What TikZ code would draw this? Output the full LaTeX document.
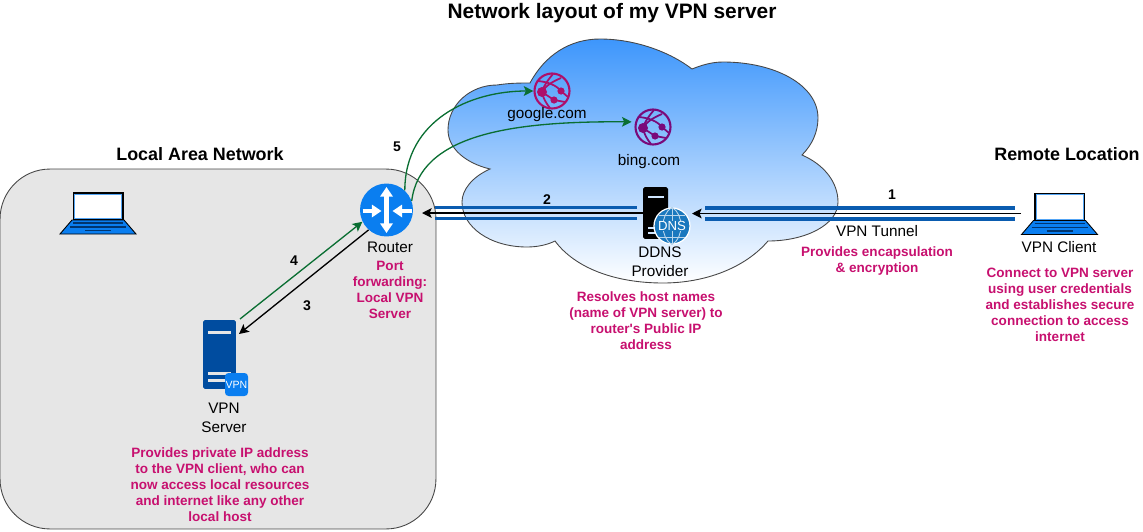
\documentclass[tikz,border=0pt]{standalone}
\usepackage{fontspec}
\setmainfont{Liberation Sans}
\definecolor{lanfill}{RGB}{230,230,230}
\definecolor{edgegray}{RGB}{70,70,70}
\definecolor{cloudtop}{RGB}{61,150,252}
\definecolor{tubeblue}{RGB}{10,92,176}
\definecolor{iconblue}{RGB}{10,126,240}
\definecolor{srvblue}{RGB}{0,76,159}
\definecolor{dnsblue}{RGB}{26,120,190}
\definecolor{darkgreen}{RGB}{10,110,50}
\definecolor{notepink}{RGB}{199,16,111}
\definecolor{gcol}{RGB}{173,15,106}
\definecolor{bcol}{RGB}{122,10,122}
\usetikzlibrary{calc, positioning, arrows.meta}

\begin{document}
\begin{tikzpicture}[
  x=0.02cm, y=-0.02cm,
  head/.style={font=\fontsize{10.2}{12}\selectfont\bfseries},
  lbl/.style={font=\fontsize{8.7}{10.8}\selectfont, align=center, inner sep=0pt},
  num/.style={font=\fontsize{8}{10}\selectfont\bfseries, inner sep=0pt},
  note/.style={font=\fontsize{7.7}{9.1}\selectfont\bfseries, text=notepink,
    align=center, inner sep=0pt},
  arw/.style={-{Stealth[length=5.5pt,width=5.5pt,inset=1.2pt]}, line width=0.75pt, black},
  grn/.style={-{Stealth[length=5.5pt,width=5.5pt,inset=1.2pt]}, line width=0.75pt, darkgreen},
  tube/.style={line width=2pt, tubeblue},
  lapbox/.style={minimum width=1.52cm, minimum height=0.84cm, inner sep=0pt},
  webnode/.style={circle, draw=#1, line width=1.2pt, minimum size=0.7cm, inner sep=0pt},
  pics/laptop/.style={code={
    \fill[black] (-25.5,-21) rectangle (25.5,7);
    \fill[iconblue!70!white] (-24,-19.5) rectangle (24,6);
    \fill[white] (-23,-18.5) rectangle (23,5);
    \draw[fill=iconblue, line width=0.5pt] (-26,7) -- (26,7) -- (38,21) -- (-38,21) -- cycle;
    \draw[srvblue!70!black, line width=0.7pt] (-25,10) -- (25,10);
    \draw[srvblue!70!black, line width=0.7pt] (-28,14) -- (28,14);
    \draw[srvblue!70!black, line width=0.8pt] (-13,17.5) -- (13,17.5);
  }},
  pics/webicon/.style={code={
    \fill[#1] (-10,1) circle[radius=5];
    \fill[#1] (9,0) circle[radius=3.6];
    \fill[#1] (2,9) circle[radius=3.6];
    \draw[#1, line width=1pt] (-14,-10) .. controls (-4,-9) and (4,-6) .. (9,0) -- (16,6);
    \draw[#1, line width=1pt] (-10,1) .. controls (-8,-6) and (-4,-11) .. (1,-17);
    \draw[#1, line width=1pt] (-10,1) -- (2,9) -- (13,11);
    \draw[#1, line width=1pt] (-10,1) .. controls (-9,7) and (-6,12) .. (-2,17);
    \draw[#1, line width=1pt] (-10,1) .. controls (-6,-6) and (2,-10) .. (9,-13);
  }},
  pics/routericon/.style={code={
    \draw[white, line width=2.6pt, {Triangle[length=5.5pt,width=7pt]}-{Triangle[length=5.5pt,width=7pt]}]
      (0,-23) -- (0,23);
    \draw[white, line width=2.6pt, -{Triangle[length=5.5pt,width=7pt]}] (-24,1) -- (-5,1);
    \draw[white, line width=2.6pt, -{Triangle[length=5.5pt,width=7pt]}] (25,1) -- (6,1);
  }},
]
\useasboundingbox (0,0) rectangle (1143,531);

% ---- Local network background ----
\node[draw=edgegray, fill=lanfill, rounded corners=1cm, line width=0.5pt,
  minimum width=8.72cm, minimum height=7.2cm, inner sep=0pt] (lan) at (218,349) {};

% ---- Internet cloud ----
\draw[draw=edgegray, line width=0.5pt, top color=cloudtop, bottom color=white]
  (530,83) .. controls (545,55) and (570,39) .. (600,39)
  .. controls (635,39) and (670,52) .. (692,69)
  .. controls (702,65) and (712,62) .. (723,62)
  .. controls (775,62) and (818,85) .. (818,118)
  .. controls (818,132) and (812,145) .. (802,155)
  .. controls (825,165) and (838,183) .. (838,202)
  .. controls (838,225) and (805,241) .. (768,241)
  .. controls (745,268) and (705,283) .. (663,283)
  .. controls (615,283) and (575,268) .. (555,241)
  .. controls (547,245) and (537,247) .. (527,247)
  .. controls (490,247) and (462,227) .. (462,202)
  .. controls (462,190) and (472,177) .. (490,169)
  .. controls (465,163) and (448,148) .. (448,130)
  .. controls (448,105) and (470,85) .. (497,85)
  .. controls (510,83) and (520,83) .. (530,83) -- cycle;

% ---- Headings ----
\node[head, font=\fontsize{11.9}{14}\selectfont\bfseries] (title) at (612,13) {Network layout of my VPN server};
\node[head] (lan-lbl) at (200,154) {Local Area Network};
\node[head] (rem-lbl) at (1067,154) {Remote Location};

% ---- Icons ----
\node[lapbox] (laptop) at (98,213) {};
\pic at (laptop) {laptop};
\node[lapbox] (client) at (1059.5,213.5) {};
\pic at (client) {laptop};

\node[circle, fill=iconblue, minimum size=1.06cm, inner sep=0pt] (router) at (386.5,210) {};
\pic at (router) {routericon};

\node[fill=srvblue, rounded corners=1pt, minimum width=0.66cm, minimum height=1.38cm,
  inner sep=0pt] (vpnsrv) at (219.5,354.5) {};
\foreach \yy in {-22.5,18.5,25.5}
  \fill[lanfill] ($(vpnsrv)+(-11.5,\yy-1.5)$) rectangle ($(vpnsrv)+(11.5,\yy+1.5)$);
\node[fill=iconblue, rounded corners=2pt, minimum size=0.46cm, inner sep=0pt, text=white,
  font=\fontsize{6}{7}\selectfont] (vpnbadge) at (236.5,384.5) {VPN};

\node[fill=black, rounded corners=1pt, minimum width=0.5cm, minimum height=1.04cm,
  inner sep=0pt] (ddns) at (655.5,213) {};
\foreach \yy in {-16,15,20}
  \fill[cloudtop!25!white] ($(ddns)+(-7.5,\yy-1)$) rectangle ($(ddns)+(8.5,\yy+1)$);
\node[circle, draw=white, fill=dnsblue, line width=0.7pt, minimum size=0.72cm, inner sep=0pt]
  (dnsglobe) at (672,226) {};
\draw[white!70!dnsblue, line width=0.5pt] (dnsglobe.north) .. controls (660,214) and (660,238) .. (dnsglobe.south);
\draw[white!70!dnsblue, line width=0.5pt] (dnsglobe.north) .. controls (684,214) and (684,238) .. (dnsglobe.south);
\draw[white!70!dnsblue, line width=0.5pt] (dnsglobe.north) -- (dnsglobe.south);
\draw[white!70!dnsblue, line width=0.5pt] (659,215) -- (685,215);
\draw[white!70!dnsblue, line width=0.5pt] (659,237) -- (685,237);
\node[fill=dnsblue, inner sep=0.3pt, text=white, font=\fontsize{7.5}{9}\selectfont] (dnstxt) at (dnsglobe) {DNS};

\node[webnode=gcol] (google) at (552,91) {};
\pic at (google) {webicon=gcol};
\node[webnode=bcol] (bing) at (653,127) {};
\pic at (bing) {webicon=bcol};

% ---- VPN tunnel ----
\coordinate (tun-a) at (435,213);
\coordinate (tun-b) at (637,213);
\coordinate (tun-c) at (705,213.5);
\coordinate (tun-d) at (1015,213.5);
\coordinate (router-in) at (422,213);
\coordinate (ddns-in) at (692,213.5);
\foreach \yy in {-5.5,5.5} {
  \draw[tube] ($(tun-a)+(0,\yy)$) -- ($(tun-b)+(0,\yy)$);
  \draw[tube] ($(tun-c)+(0,\yy)$) -- ($(tun-d)+(0,\yy)$);
}
\draw[arw] (client.west) -- (ddns-in);
\draw[arw] (ddns.west) -- (router-in);

% ---- Router links ----
\coordinate (srv-out) at (240,319);
\coordinate (srv-in) at (239,334);
\draw[grn] (srv-out) -- (router.206);
\draw[arw] (router.228) -- (srv-in);
\draw[grn] (router.47) .. controls (405,120) and (470,91) .. (google.west);
\draw[grn, shorten >=2pt] (router.20) .. controls (420,135) and (510,121) .. (bing.164);

% ---- Labels ----
\node[num] (n1) at (892,195) {1};
\node[num] (n2) at (547,200) {2};
\node[num] (n3) at (307,306) {3};
\node[num] (n4) at (294,261) {4};
\node[num] (n5) at (397,147) {5};
\node[lbl] (router-lbl) at (390,247) {Router};
\node[lbl] (srv-lbl) at (224,417.5) {VPN\\Server};
\node[lbl] (ddns-lbl) at (660,261.5) {DDNS\\Provider};
\node[lbl] (tun-lbl) at (877,231) {VPN Tunnel};
\node[lbl] (client-lbl) at (1059,247) {VPN Client};
\node[lbl] (google-lbl) at (547,115) {google.com};
\node[lbl] (bing-lbl) at (649,162) {bing.com};

\node[note] (router-note) at (390,289.5) {Port\\forwarding:\\Local VPN\\Server};
\node[note] (srv-note) at (220,485) {Provides private IP address\\to the VPN client, who can\\now access local resources\\and internet like any other\\local host};
\node[note] (ddns-note) at (646,320.5) {Resolves host names\\(name of VPN server) to\\router\textquotesingle s Public IP\\address};
\node[note] (tun-note) at (877,261) {Provides encapsulation\\\& encryption};
\node[note] (client-note) at (1060,305) {Connect to VPN server\\using user credentials\\and establishes secure\\connection to access\\internet};

\end{tikzpicture}
\end{document}
